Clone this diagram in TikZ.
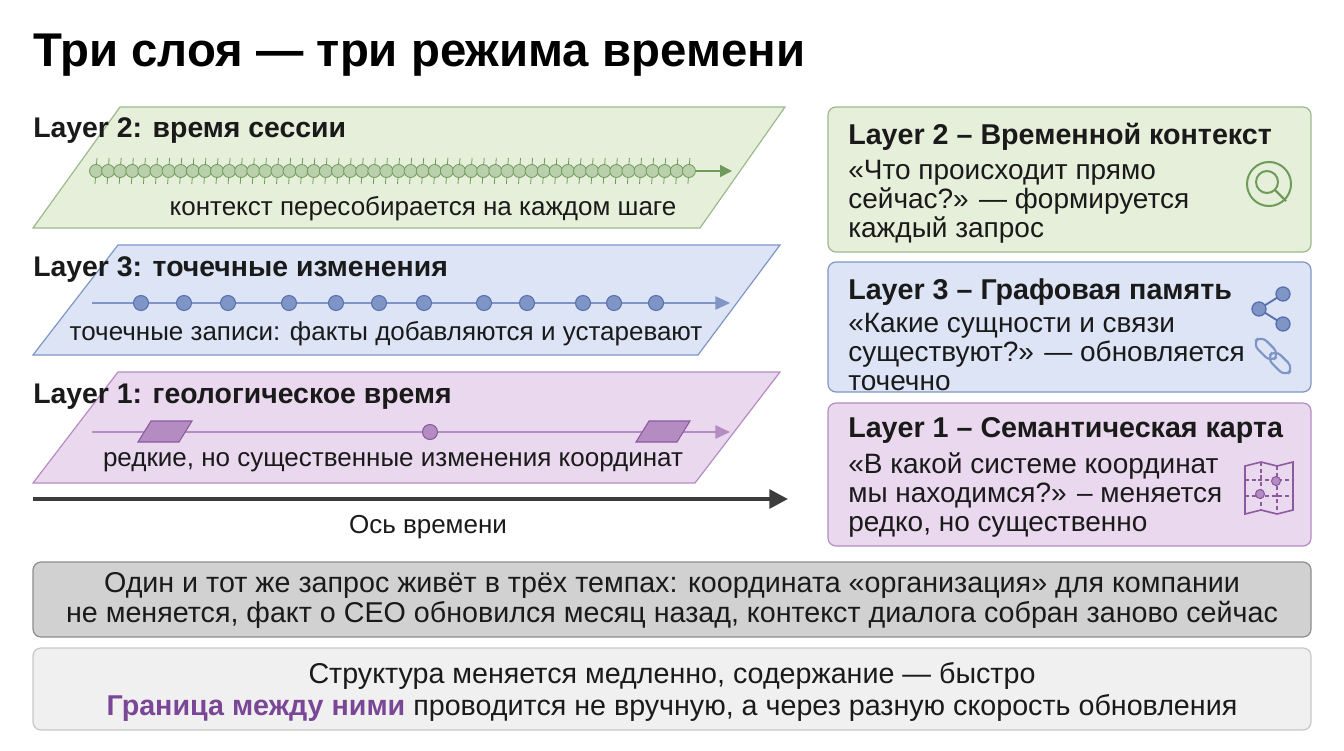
\documentclass[tikz,border=0pt]{standalone}
\usepackage{fontspec}
\setmainfont{Liberation Sans}
\usetikzlibrary{arrows.meta,positioning}
\definecolor{grfill}{HTML}{E6EFDA}\definecolor{grline}{HTML}{9DB98C}\definecolor{grdark}{HTML}{6E9A5A}
\definecolor{blfill}{HTML}{DCE4F5}\definecolor{blline}{HTML}{7F95C6}\definecolor{bldark}{HTML}{5870AE}
\definecolor{pufill}{HTML}{EAD8EE}\definecolor{puline}{HTML}{B48CC2}\definecolor{pudark}{HTML}{8A5A9E}
\definecolor{ink}{HTML}{1A1A1A}\definecolor{accent}{HTML}{7A4696}
\tikzset{
  lbl/.style={anchor=west,font=\fontsize{21.3}{24}\selectfont\bfseries,text=ink,inner sep=0},
  sub/.style={font=\fontsize{19.5}{22}\selectfont,text=ink,inner sep=0},
  card/.style={rounded corners=6pt,line width=0.9pt},
  head/.style={anchor=west,font=\fontsize{21.5}{24}\selectfont\bfseries,text=ink,inner sep=0},
  body/.style={anchor=north west,align=left,font=\fontsize{21}{21.8}\selectfont,text=ink,inner sep=0},
}
\begin{document}
\begin{tikzpicture}[x=0.75pt,y=-0.75pt]
\useasboundingbox (0,0) rectangle (1344,750);
% title
\node[anchor=west,inner sep=0,font=\fontsize{35.5}{40}\selectfont\bfseries] (title) at (33,55) {Три слоя — три режима времени};

% layer bands
\draw[fill=grfill,draw=grline,line width=0.9pt] (33,228) -- (120,107) -- (785,107) -- (700,228) -- cycle;
\draw[fill=blfill,draw=blline,line width=0.9pt] (33,355) -- (118,245) -- (780,245) -- (698,355) -- cycle;
\draw[fill=pufill,draw=puline,line width=0.9pt] (33,483) -- (118,372) -- (780,372) -- (695,483) -- cycle;

\node[lbl] (l2) at (33,131) {Layer 2: время сессии};
\node[lbl] (l3) at (33,270) {Layer 3: точечные изменения};
\node[lbl] (l1) at (33,397) {Layer 1: геологическое время};

% session line
\coordinate (gs) at (90,171); \coordinate (ge) at (732,171);
\draw[grdark,line width=1.2pt,-{Triangle[length=9pt,width=9pt]}] (gs) -- (ge);
\foreach \i in {0,...,49} {
  \draw[grdark,line width=0.6pt] (97+12.1*\i,158) -- (95+12.1*\i,184);
  \fill[grfill!40!grline,draw=grdark,line width=0.6pt] (96+12.1*\i,171) circle (6.5);
}
\node[sub] (gt) at (423,209) {контекст пересобирается на каждом шаге};

% graph line
\coordinate (bs) at (92,303); \coordinate (be) at (730,303);
\draw[blline,line width=1.2pt,-{Triangle[length=11pt,width=10pt]}] (bs) -- (be);
\foreach \x in {141,184,228,289,336,379,424,484,527,583,614,656}
  \fill[blline,draw=bldark,line width=0.8pt] (\x,303) circle (7.5);
\node[sub] (bt) at (386,334) {точечные записи: факты добавляются и устаревают};

% geological line
\coordinate (ps) at (92,432); \coordinate (pe) at (730,432);
\draw[puline,line width=1.2pt,-{Triangle[length=11pt,width=10pt]}] (ps) -- (pe);
\foreach \x in {165,663}
  \draw[fill=puline,draw=pudark,line width=0.8pt] (\x-27,442) -- (\x-14,421) -- (\x+27,421) -- (\x+14,442) -- cycle;
\fill[puline,draw=pudark,line width=0.8pt] (430,432) circle (7.5);
\node[sub] (pt) at (393,462) {редкие, но существенные изменения координат};

% time axis
\coordinate (ts) at (33,499); \coordinate (te) at (788,499);
\draw[ink!85,line width=3pt,-{Triangle[length=14pt,width=14pt]}] (ts) -- (te);
\node[sub] (tl) at (428,527) {Ось времени};

% right cards
\draw[card,fill=grfill,draw=grline] (828,107) rectangle (1311,252);
\node[head] (h2) at (848,137) {Layer 2 – Временной контекст};
\node[body] (b2) at (848,160) {«Что происходит прямо\\сейчас?» — формируется\\каждый запрос};
\draw[grdark,line width=1.5pt] (1269,184) circle (22);
\draw[grdark,line width=1.5pt] (1267,182) circle (11);
\draw[grdark,line width=1.7pt] (1275,190) -- (1286,201);

\draw[card,fill=blfill,draw=blline] (828,262) rectangle (1311,392);
\node[head] (h3) at (848,292) {Layer 3 – Графовая память};
\node[body] (b3) at (848,313) {«Какие сущности и связи\\существуют?» — обновляется\\точечно};
\draw[bldark,line width=1.4pt] (1283,294) -- (1259,309) -- (1283,324);
\foreach \p in {(1283,294),(1259,309),(1283,324)} \fill[blline,draw=bldark,line width=1pt] \p circle (7);
\draw[blline,line width=1.6pt,rounded corners=6pt,rotate around={-45:(1273,356)}] (1250,350) rectangle (1276,362) (1270,350) rectangle (1296,362);

\draw[card,fill=pufill,draw=puline] (828,403) rectangle (1311,546);
\node[head] (h1) at (848,430) {Layer 1 – Семантическая карта};
\node[body] (b1) at (848,452) {«В какой системе координат\\мы находимся?» – меняется\\редко, но существенно};
\draw[pudark,line width=1.2pt] (1245,466) -- (1261,462) -- (1277,466) -- (1293,462) -- (1293,510) -- (1277,514) -- (1261,510) -- (1245,514) -- cycle;
\draw[pudark,line width=0.8pt,dash pattern=on 3pt off 2pt] (1261,462) -- (1261,510) (1277,466) -- (1277,514) (1245,480) -- (1293,480) (1245,496) -- (1293,496);
\fill[puline,draw=pudark,line width=0.8pt] (1276,481) circle (4.5) (1260,494) circle (4.5);

% summary boxes
\draw[rounded corners=6pt,fill=black!18,draw=black!45,line width=0.9pt] (33,562) rectangle (1311,637);
\node[align=center,font=\fontsize{21.5}{22.5}\selectfont,text=ink,inner sep=0] (sum) at (672,600)
  {Один и тот же запрос живёт в трёх темпах: координата «организация» для компании\\не меняется, факт о CEO обновился месяц назад, контекст диалога собран заново сейчас};
\draw[rounded corners=6pt,fill=black!6,draw=black!22,line width=0.9pt] (33,648) rectangle (1311,730);
\node[align=center,font=\fontsize{21.5}{24}\selectfont,text=ink,inner sep=0] (con) at (672,692)
  {Структура меняется медленно, содержание — быстро\\{\bfseries\color{accent}Граница между ними} проводится не вручную, а через разную скорость обновления};
\end{tikzpicture}
\end{document}
